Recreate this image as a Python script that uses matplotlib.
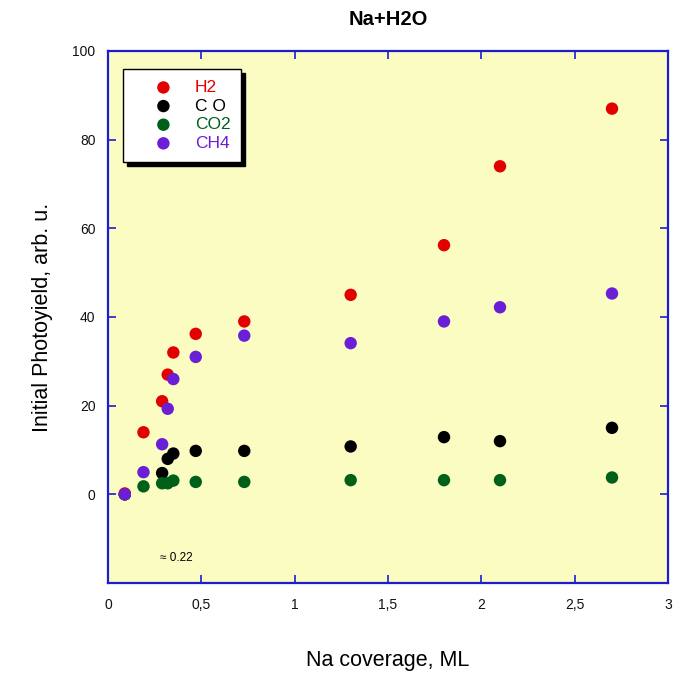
import matplotlib
matplotlib.use("Agg")
import matplotlib.pyplot as plt
from matplotlib.ticker import FixedLocator, FixedFormatter

plt.rcParams['font.family'] = ['Liberation Sans', 'DejaVu Sans']

# Na coverage (ML)
coverage = [0.09, 0.19, 0.29, 0.32, 0.35, 0.47, 0.73, 1.30, 1.80, 2.10, 2.70]

# Initial photoyields (arb. u.)
h2 = [0.2, 14.0, 21.0, 27.0, 32.0, 36.2, 39.0, 45.0, 56.2, 74.0, 87.0]
co = [0.0, None, 4.8, 8.0, 9.2, 9.8, 9.8, 10.8, 12.9, 12.0, 15.0]
co2 = [0.0, 1.8, 2.5, 2.5, 3.1, 2.8, 2.8, 3.2, 3.2, 3.2, 3.8]
ch4 = [0.0, 5.0, 11.3, 19.3, 26.0, 31.0, 35.8, 34.1, 39.0, 42.2, 45.3]

series_names = ['H2', 'C O', 'CO2', 'CH4']
series_colors = ['#e30000', '#000000', '#00601a', '#6a1fd6']

xticks = [0, 0.5, 1, 1.5, 2, 2.5, 3]
xtick_labels = ['0', '0,5', '1', '1,5', '2', '2,5', '3']
yticks = [0, 20, 40, 60, 80, 100]

fig = plt.figure(figsize=(6.8, 6.75), dpi=100)
ax = fig.add_axes([108 / 680, 92 / 675, 560 / 680, 532 / 675])
ax.set_facecolor('#fafcc2')

spine_color = '#1c1cd0'
for s in ax.spines.values():
    s.set_color(spine_color)
    s.set_linewidth(1.6)

# draw order: CO and CO2 first, then H2 and CH4 on top
draw_order = [1, 2, 0, 3]
all_series = [h2, co, co2, ch4]
for i in draw_order:
    vals = all_series[i]
    xs = [x for x, v in zip(coverage, vals) if v is not None]
    ys = [v for v in vals if v is not None]
    ax.scatter(xs, ys, s=80, color=series_colors[i], edgecolors='none',
               zorder=3, label=series_names[i])

ax.set_xlim(0, 3)
ax.set_ylim(-20, 100)
ax.xaxis.set_major_locator(FixedLocator(xticks))
ax.xaxis.set_major_formatter(FixedFormatter(xtick_labels))
ax.yaxis.set_major_locator(FixedLocator(yticks))
ax.tick_params(axis='both', direction='in', length=6, width=1.2, color=spine_color,
               top=True, right=True, labelsize=10, labelcolor='#111111')
ax.tick_params(axis='x', pad=11)
ax.tick_params(axis='y', pad=9)

ax.set_xlabel('Na coverage, ML', fontsize=15.5, labelpad=27)
ax.set_ylabel('Initial Photoyield, arb. u.', fontsize=15.5, labelpad=14)
ax.set_title('Na+H2O', fontsize=14.5, fontweight='bold', pad=19)

ax.text(0.28, -14.3, '\u2248 0.22', fontsize=8.5, va='center', ha='left')

# legend in the order H2, CO, CO2, CH4
h_all, l_all = ax.get_legend_handles_labels()
order = [l_all.index(n) for n in series_names]
leg = ax.legend([h_all[i] for i in order], [l_all[i] for i in order],
                loc='upper left', bbox_to_anchor=(0.027, 0.966), borderaxespad=0,
                frameon=True, fancybox=False, edgecolor='black', framealpha=1,
                facecolor='white', fontsize=12.5, handletextpad=0.1,
                labelspacing=0.2, borderpad=0.62, handlelength=3.4,
                shadow={'ox': 3, 'oy': -3, 'facecolor': 'black',
                        'edgecolor': 'black', 'alpha': 1})
leg.get_frame().set_linewidth(1.0)
for txt, col in zip(leg.get_texts(), series_colors):
    txt.set_color(col)

fig.savefig('out.png', dpi=100)
